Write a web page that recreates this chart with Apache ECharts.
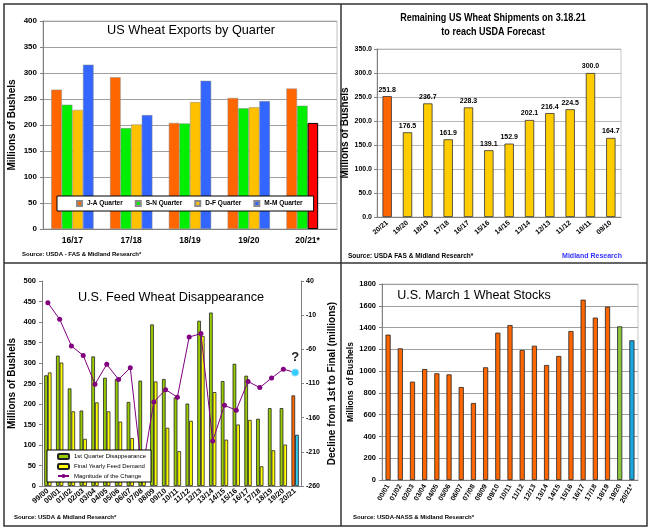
<!DOCTYPE html>
<html>
<head>
<meta charset="utf-8">
<script src="https://cdn.jsdelivr.net/npm/echarts@6.0.0/dist/echarts.min.js"></script>
<style>
  html, body { margin: 0; padding: 0; background: #fff; }
  #main { width: 651px; height: 530px; }
</style>
</head>
<body>
<div id="main"></div>
<script>
'use strict'

// top left: exports by quarter
const exportSeasons = ['16/17', '17/18', '18/19', '19/20', '20/21*'];
const jaQuarter = [268, 292, 204, 252, 270];
const snQuarter = [239, 194, 203, 232, 237];
const dfQuarter = [229, 201, 244, 234, 204];
const mmQuarter = [316, 219, 285, 246, null];

// top right: remaining shipments
const remainSeasons = ['20/21', '19/20', '18/19', '17/18', '16/17', '15/16', '14/15', '13/14', '12/13', '11/12', '10/11', '09/10'];
const remainValues = [251.8, 176.5, 236.7, 161.9, 228.3, 139.1, 152.9, 202.1, 216.4, 224.5, 300.0, 164.7];

// bottom left: feed wheat disappearance
const feedSeasons = ['99/00', '00/01', '01/02', '02/03', '03/04', '04/05', '05/06', '06/07', '07/08', '08/09', '09/10',
  '10/11', '11/12', '12/13', '13/14', '14/15', '15/16', '16/17', '17/18', '18/19', '19/20', '20/21'];
const firstQuarter = [270, 318, 238, 184, 316, 264, 261, 205, 257, 394, 261, 216, 201, 403, 423, 256, 298, 269, 164, 190, 190, 221];
const finalDemand = [277, 301, 182, 115, 204, 182, 157, 117, 16, 255, 142, 85, 159, 366, 229, 113, 150, 161, 48, 87, 101, 125];
const declineValues = [8, -16, -55, -69, -111, -82, -104, -87, -240, -137, -119, -130, -42, -37, -194, -142, -149, -107, -116, -102, -89, -94];

// bottom right: march 1 stocks
const stockSeasons = ['00/01', '01/02', '02/03', '03/04', '04/05', '05/06', '06/07', '07/08', '08/09', '09/10', '10/11',
  '11/12', '12/13', '13/14', '14/15', '15/16', '16/17', '17/18', '18/19', '19/20', '20/21*'];
const stockValues = [1335, 1209, 903, 1019, 980, 970, 854, 707, 1035, 1353, 1423, 1194, 1233, 1056, 1139, 1368, 1656, 1491, 1592, 1411, 1283];

const FONT = '"Liberation Sans", Arial, sans-serif';
const lastIdx = (arr) => arr.length - 1;

function text(x, y, str, size, opts) {
  opts = opts || {};
  return {
    type: 'text', x: x, y: y, z: 100, scaleX: opts.scaleX || 1,
    style: {
      text: str,
      font: (opts.weight || 'normal') + ' ' + size + 'px ' + FONT,
      fill: opts.color || '#000',
      align: opts.align || 'left',
      verticalAlign: 'middle',
      textAlign: opts.align || 'left',
      textVerticalAlign: 'middle'
    }
  };
}

function line(x1, y1, x2, y2) {
  return { type: 'line', z: 100, shape: { x1: x1, y1: y1, x2: x2, y2: y2 }, style: { stroke: '#333', lineWidth: 1.5 } };
}

const lblStyle = { fontFamily: FONT, fontWeight: 'bold', color: '#000' };
const nameStyle = { fontFamily: FONT, fontWeight: 'bold', fontSize: 10, color: '#000' };
const grayAxis = { show: true, lineStyle: { color: '#808080' } };

const chart = echarts.init(document.getElementById('main'));

const option = {
  animation: false,
  backgroundColor: '#fff',
  grid: [
    { left: 43, top: 21, width: 294, height: 208, show: true, borderColor: '#c0c0c0', borderWidth: 1 },
    { left: 377, top: 49, width: 244, height: 168, show: true, borderColor: '#c8c8c8', borderWidth: 1 },
    { left: 42, top: 281, width: 259, height: 205 },
    { left: 382, top: 284, width: 256, height: 196, show: true, borderColor: '#c8c8c8', borderWidth: 1 }
  ],
  xAxis: [
    { gridIndex: 0, type: 'category', data: exportSeasons, axisLine: grayAxis,
      axisTick: { length: 3, lineStyle: { color: '#808080' } },
      axisLabel: Object.assign({ fontSize: 8.5, margin: 7 }, lblStyle) },
    { gridIndex: 1, type: 'category', data: remainSeasons, axisLine: grayAxis,
      axisTick: { show: false },
      axisLabel: Object.assign({ fontSize: 7, rotate: 40, margin: 5, interval: 0 }, lblStyle) },
    { gridIndex: 2, type: 'category', data: feedSeasons, axisLine: grayAxis,
      axisTick: { show: false },
      axisLabel: Object.assign({ fontSize: 7.5, rotate: 40, margin: 4, interval: 0 }, lblStyle) },
    { gridIndex: 3, type: 'category', data: stockSeasons, axisLine: grayAxis,
      axisTick: { show: false },
      axisLabel: Object.assign({ fontSize: 7, rotate: 60, margin: 5, interval: 0 }, lblStyle) }
  ],
  yAxis: [
    { gridIndex: 0, type: 'value', min: 0, max: 400, interval: 50,
      name: 'Millions of Bushels', nameLocation: 'middle', nameGap: 26, nameTextStyle: nameStyle,
      axisLine: grayAxis, axisTick: { show: true, length: 3, lineStyle: { color: '#808080' } },
      axisLabel: Object.assign({ fontSize: 8, margin: 6 }, lblStyle),
      splitLine: { lineStyle: { color: '#a0a0a0' } } },
    { gridIndex: 1, type: 'value', min: 0, max: 350, interval: 50,
      name: 'Millions of Bushels', nameLocation: 'middle', nameGap: 24, nameTextStyle: nameStyle,
      axisLine: grayAxis, axisTick: { show: true, length: 3, lineStyle: { color: '#808080' } },
      axisLabel: Object.assign({ fontSize: 7, margin: 5, formatter: (v) => v.toFixed(1) }, lblStyle),
      splitLine: { lineStyle: { color: '#b8b8b8' } } },
    { gridIndex: 2, type: 'value', min: 0, max: 500, interval: 50,
      name: 'Millions of Bushels', nameLocation: 'middle', nameGap: 25, nameTextStyle: nameStyle,
      axisLine: grayAxis, axisTick: { show: true, length: 3, lineStyle: { color: '#808080' } },
      axisLabel: Object.assign({ fontSize: 7.5, margin: 6 }, lblStyle),
      splitLine: { show: false } },
    { gridIndex: 2, type: 'value', position: 'right', min: -260, max: 40, interval: 50,
      name: 'Decline from 1st to Final (millions)', nameLocation: 'middle', nameGap: 26, nameRotate: 90,
      nameTextStyle: nameStyle,
      axisLine: grayAxis, axisTick: { show: true, length: 3, lineStyle: { color: '#808080' } },
      axisLabel: Object.assign({ fontSize: 7, margin: 5 }, lblStyle),
      splitLine: { show: false } },
    { gridIndex: 3, type: 'value', min: 0, max: 1800, interval: 200,
      name: 'Millions  of Bushels', nameLocation: 'middle', nameGap: 27,
      nameTextStyle: Object.assign({}, nameStyle, { fontSize: 8.5 }),
      axisLine: grayAxis, axisTick: { show: true, length: 3, lineStyle: { color: '#808080' } },
      axisLabel: Object.assign({ fontSize: 7.5, margin: 6, formatter: (v) => String(v) }, lblStyle),
      splitLine: { lineStyle: { color: '#a0a0a0' } } }
  ],
  legend: [
    { data: ['J-A Quarter', 'S-N Quarter', 'D-F Quarter', 'M-M Quarter'], selectedMode: false,
      left: 57, top: 196, orient: 'horizontal', padding: [4, 11, 4, 19],
      itemWidth: 5, itemHeight: 5, itemGap: 12, icon: 'rect',
      backgroundColor: '#fff', borderColor: '#000', borderWidth: 1,
      textStyle: { fontFamily: FONT, fontWeight: 'bold', fontSize: 6.5, color: '#000' } },
    { data: ['1st Quarter Disappearance', 'Final Yearly Feed Demand', 'Magnitude of the Change'], selectedMode: false,
      left: 47, top: 450, orient: 'vertical', padding: [3, 5, 3, 10],
      itemWidth: 11, itemHeight: 5, itemGap: 3,
      backgroundColor: '#fff', borderColor: '#000', borderWidth: 1,
      textStyle: { fontFamily: FONT, fontSize: 6, color: '#000' } }
  ],
  series: [
    // top left
    { name: 'J-A Quarter', type: 'bar', xAxisIndex: 0, yAxisIndex: 0, data: jaQuarter,
      barGap: '0%', barCategoryGap: '28%',
      itemStyle: { color: '#FF6600', borderColor: '#8a8a8a', borderWidth: 0.5 } },
    { name: 'S-N Quarter', type: 'bar', xAxisIndex: 0, yAxisIndex: 0, data: snQuarter,
      itemStyle: { color: '#00EE00', borderColor: '#8a8a8a', borderWidth: 0.5 } },
    { name: 'D-F Quarter', type: 'bar', xAxisIndex: 0, yAxisIndex: 0,
      data: dfQuarter.map((v, i) => i === lastIdx(dfQuarter)
        ? { value: v, itemStyle: { color: '#FF0000', borderColor: '#000', borderWidth: 1 } } : v),
      itemStyle: { color: '#FFC000', borderColor: '#8a8a8a', borderWidth: 0.5 } },
    { name: 'M-M Quarter', type: 'bar', xAxisIndex: 0, yAxisIndex: 0, data: mmQuarter,
      itemStyle: { color: '#3366FF', borderColor: '#8a8a8a', borderWidth: 0.5 } },

    // top right
    { name: 'Remaining', type: 'bar', xAxisIndex: 1, yAxisIndex: 1, barWidth: '46%',
      data: remainValues.map((v, i) => i === 0 ? { value: v, itemStyle: { color: '#FF6600' } } : v),
      itemStyle: { color: '#FFCC00', borderColor: '#333', borderWidth: 0.8 },
      label: Object.assign({ show: true, position: 'top', distance: 3, fontSize: 7,
        formatter: (p) => p.value.toFixed(1) }, lblStyle) },

    // bottom left
    { name: '1st Quarter Disappearance', type: 'bar', xAxisIndex: 2, yAxisIndex: 2,
      barGap: '0%', barCategoryGap: '38%',
      data: firstQuarter.map((v, i) => i === lastIdx(firstQuarter) ? { value: v, itemStyle: { color: '#FF6600' } } : v),
      itemStyle: { color: '#99CC00', borderColor: '#222', borderWidth: 0.8 } },
    { name: 'Final Yearly Feed Demand', type: 'bar', xAxisIndex: 2, yAxisIndex: 2,
      data: finalDemand.map((v, i) => i === lastIdx(finalDemand) ? { value: v, itemStyle: { color: '#33CCEE' } } : v),
      itemStyle: { color: '#FFFF00', borderColor: '#222', borderWidth: 0.8 } },
    { name: 'Magnitude of the Change', type: 'line', xAxisIndex: 2, yAxisIndex: 3,
      symbol: 'circle', symbolSize: 5,
      data: declineValues.map((v, i) => i === lastIdx(declineValues)
        ? { value: v, symbolSize: 7, itemStyle: { color: '#33CCFF', borderColor: '#88ddff', borderWidth: 1 },
            label: { show: true, position: 'top', distance: 5, formatter: '?',
              fontFamily: FONT, fontWeight: 'bold', fontSize: 13, color: '#222' } }
        : v),
      lineStyle: { color: '#800080', width: 1 },
      itemStyle: { color: '#800080' } },

    // bottom right
    { name: 'Stocks', type: 'bar', xAxisIndex: 3, yAxisIndex: 4, barWidth: '42%',
      data: stockValues.map((v, i) => {
        if (i === lastIdx(stockValues)) return { value: v, itemStyle: { color: '#1BA6E0' } };
        if (i === lastIdx(stockValues) - 1) return { value: v, itemStyle: { color: '#8CC63F' } };
        return v;
      }),
      itemStyle: { color: '#FF6600', borderColor: '#222', borderWidth: 0.8 } }
  ],
  graphic: [
    // panel frame
    { type: 'rect', z: 100, shape: { x: 4, y: 4, width: 643, height: 522 },
      style: { fill: null, stroke: '#333', lineWidth: 1.5 } },
    line(341, 4, 341, 526),
    line(4, 263, 647, 263),

    text(191, 30, 'US Wheat Exports by Quarter', 12.7, { align: 'center' }),
    text(493, 18, 'Remaining US Wheat Shipments on 3.18.21', 11, { weight: 'bold', align: 'center', scaleX: 0.82 }),
    text(493, 32, 'to reach USDA Forecast', 11, { weight: 'bold', align: 'center', scaleX: 0.82 }),
    text(171, 297, 'U.S. Feed Wheat Disappearance', 12.7, { align: 'center' }),
    text(474, 296, 'U.S. March 1 Wheat Stocks', 12.5, { align: 'center' }),

    text(22, 254, 'Source: USDA - FAS & Midland Research*', 6, { weight: 'bold' }),
    text(348, 256, 'Source: USDA FAS & Midland Research*', 6.5, { weight: 'bold' }),
    text(622, 256, 'Midland Research', 7, { weight: 'bold', color: '#3333FF', align: 'right' }),
    text(14, 517, 'Source: USDA & Midland Research*', 6, { weight: 'bold' }),
    text(353, 517, 'Source: USDA-NASS & Midland Research*', 6, { weight: 'bold' })
  ]
};

chart.setOption(option);
</script>
</body>
</html>
